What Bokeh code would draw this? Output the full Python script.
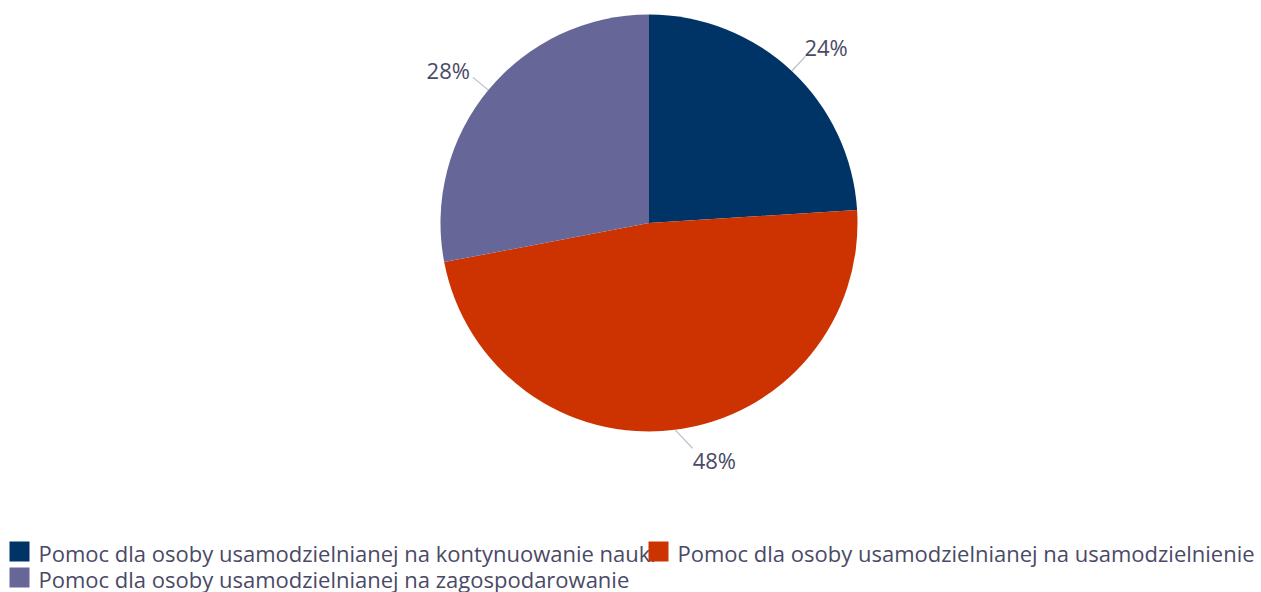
import math
from bokeh.plotting import figure
from bokeh.models import Range1d
from bokeh.core.properties import value
from bokeh.embed import file_html
from bokeh.resources import INLINE

# ---- data ----
categories = [
    "Pomoc dla osoby usamodzielnianej na kontynuowanie nauki",
    "Pomoc dla osoby usamodzielnianej na usamodzielnienie",
    "Pomoc dla osoby usamodzielnianej na zagospodarowanie",
]
shares = [24, 48, 28]
colors = ["#003366", "#CC3300", "#666699"]

W, H = 1261, 592
FONT = "Open Sans"
TXT = "#4a4a66"

p = figure(width=W, height=H, output_backend="svg", toolbar_location=None,
           x_range=Range1d(0, W), y_range=Range1d(0, H), min_border=0)
p.axis.visible = False
p.grid.visible = False
p.outline_line_color = None
p.background_fill_color = "white"

def sy(y):  # y from top -> data y
    return H - y

cx, cy, r = 648.5, 222.5, 208.5

total = sum(shares)
starts, ends, mids = [], [], []
acc = 0.0
for s in shares:
    a0 = acc / total * 2 * math.pi
    acc += s
    a1 = acc / total * 2 * math.pi
    starts.append(math.pi / 2 - a0)
    ends.append(math.pi / 2 - a1)
    mids.append((a0 + a1) / 2)

p.wedge(x=[cx] * len(shares), y=[sy(cy)] * len(shares), radius=r,
        start_angle=starts, end_angle=ends, direction="clock",
        fill_color=colors, line_color=None)

# leader lines & labels (layout offsets)
lead = [(13.7, -14.6), (17.5, 18.5), (-15.4, -12.7)]
lab_off = [(-1, -9, "left"), (0, 12, "left"), (-3, -7, "right")]
for i, s in enumerate(shares):
    t = mids[i]
    ex, ey = cx + r * math.sin(t), cy - r * math.cos(t)
    lx, ly = ex + lead[i][0], ey + lead[i][1]
    p.line([ex, lx], [sy(ey), sy(ly)], line_color="#b4bccc", line_width=1.2)
    dx, dy, al = lab_off[i]
    p.text(x=[lx + dx], y=[sy(ly + dy)], text=[f"{s}%"], text_align=al,
           text_baseline="middle", text_font=value(FONT), text_font_size="22px",
           text_color=TXT)

# legend
leg_pos = [(9, 541), (648, 541), (9, 567)]
for i, c in enumerate(categories):
    x0, y0 = leg_pos[i]
    p.rect(x=[x0 + 10], y=[sy(y0 + 10)], width=20, height=20,
           fill_color=colors[i], line_color=None)
    p.text(x=[x0 + 29], y=[sy(y0 + 11)], text=[c], text_align="left",
           text_baseline="middle", text_font=value(FONT), text_font_size="22px",
           text_color=TXT)

open("out.html", "w").write(file_html(p, INLINE))
